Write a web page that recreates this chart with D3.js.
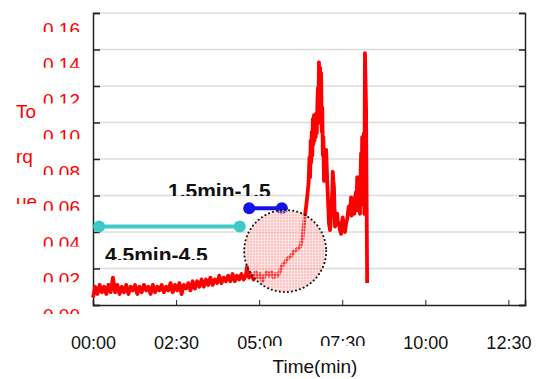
<!DOCTYPE html>
<html>
<head>
<meta charset="utf-8">
<script src="https://cdn.jsdelivr.net/npm/d3@7"></script>
<style>
  body { margin: 0; background: #fff; }
  svg text { font-family: Arial, "Liberation Sans", sans-serif; }
</style>
</head>
<body>
<div id="chart"></div>
<script>
// torque trace (time in seconds, torque value)
const timeSec = [
  0, 4, 8, 12, 16, 20, 24, 28, 32, 36, 40, 44, 48, 52, 56, 60, 64, 68, 72, 76,
  80, 84, 88, 92, 96, 100, 104, 108, 112, 116, 120, 124, 128, 132, 136, 140, 144, 148, 152, 156,
  160, 164, 168, 172, 176, 180, 184, 188, 192, 196, 200, 204, 208, 212, 216, 220, 224, 228, 232, 236,
  240, 244, 248, 252, 256, 260, 264, 268, 272, 276, 278, 282, 286, 290, 294, 298, 302, 306, 310, 314,
  318, 322, 326, 330, 334, 338, 342, 346, 350, 354, 358, 362, 366, 370, 374, 378, 382, 386,
  389, 391, 392, 393, 394, 395, 396, 397, 398, 399, 400, 401, 402, 403, 404, 405, 406, 407, 408, 409,
  410, 411, 412, 413, 414, 415, 416, 417, 418, 419, 421, 423, 424, 426, 428, 430, 432, 433, 434, 435,
  437, 439, 441, 442, 444, 446, 448, 450, 451, 453, 455, 457, 459, 461, 462, 464, 466, 467, 468, 469,
  471, 472, 473, 475, 476, 477, 478, 480, 482, 484, 485, 486, 487, 488, 489, 490, 491, 493, 495
];
const torque = [
  .004, .010, .006, .011, .007, .010, .006, .011, .007, .015, .007, .011, .006, .010, .007, .011, .006, .010, .008, .011,
  .006, .010, .007, .011, .008, .010, .006, .011, .007, .010, .008, .011, .007, .010, .008, .012, .007, .011, .008, .012,
  .006, .011, .009, .012, .008, .013, .009, .013, .010, .014, .010, .014, .011, .015, .011, .014, .012, .016, .012, .015,
  .013, .016, .013, .017, .013, .016, .014, .017, .014, .016, .021, .015, .017, .014, .018, .015, .017, .013, .016, .018,
  .016, .018, .015, .017, .016, .019, .022, .023, .025, .026, .027, .029, .030, .031, .032, .036, .047, .057,
  .066, .081, .070, .090, .078, .095, .082, .102, .088, .104, .090, .103, .092, .105, .094, .108, .119, .100, .133, .110,
  .130, .105, .127, .095, .108, .082, .092, .068, .078, .080, .085, .067, .060, .045, .041, .050, .062, .073, .068, .065,
  .043, .048, .050, .044, .045, .041, .039, .046, .048, .042, .040, .045, .047, .052, .054, .050, .059, .049, .055, .052,
  .058, .050, .059, .062, .054, .070, .052, .058, .050, .083, .060, .092, .080, .055, .094, .050, .138, .108, .012
];

// markers: two horizontal segments and the highlighted circle
const segCyan = [[11, .043], [265, .043]];
const segBlue = [[282, .053], [341, .053]];
const circleCenter = [347, .0296];

const xTicks = [0, 150, 300, 450, 600, 750];
const yTicks = [0, .02, .04, .06, .08, .10, .12, .14, .16];
const yTitleLines = ["To", "rq", "ue"];
const labelCyan = "4.5min-4.5";
const labelBlue = "1.5min-1.5";

const width = 541, height = 379;

const svg = d3.select("#chart").append("svg")
  .attr("width", width)
  .attr("height", height);

const x = d3.scaleLinear().domain([0, 780]).range([93, 525]);
const y = d3.scaleLinear().domain([0, 0.16]).range([305, 13]);
// the value labels sit on a slightly tighter spacing than the grid
const yLabel = d3.scaleLinear().domain([0, 0.16]).range([308, 22]);

const defs = svg.append("defs");
const pat = defs.append("pattern")
  .attr("id", "grid")
  .attr("patternUnits", "userSpaceOnUse")
  .attr("width", 3).attr("height", 3);
pat.append("rect").attr("width", 3).attr("height", 3).attr("fill", "rgba(255,120,120,0.42)");
pat.append("path").attr("d", "M0,0.5H3M0.5,0V3")
  .attr("stroke", "rgba(255,255,255,0.45)").attr("stroke-width", 1);

// gridlines
svg.append("g")
  .selectAll("line")
  .data(yTicks.slice(1))
  .join("line")
  .attr("x1", x(0)).attr("x2", x(780))
  .attr("y1", d => y(d)).attr("y2", d => y(d))
  .attr("stroke", "#dcdcdc")
  .attr("stroke-width", 1.5);

// axes
const xAxis = svg.append("g")
  .attr("transform", `translate(0,${y(0)})`)
  .call(d3.axisBottom(x).tickValues(xTicks).tickSize(-5).tickPadding(31)
    .tickFormat(d => d3.format("02")(Math.floor(d / 60)) + ":" + d3.format("02")(d % 60)));
xAxis.select(".domain").attr("stroke", "#222").attr("stroke-width", 1.5);
xAxis.selectAll(".tick line").attr("stroke", "#222");
xAxis.selectAll("text").attr("font-size", 18).attr("fill", "#111");

const yAxisL = svg.append("g")
  .attr("transform", `translate(${x(0)},0)`)
  .call(d3.axisLeft(y).tickValues(yTicks).tickSize(-7).tickFormat(""));
yAxisL.select(".domain").attr("stroke", "#222").attr("stroke-width", 1.5);
yAxisL.selectAll(".tick line").attr("stroke", "#222").attr("stroke-width", 1.5);

const yAxisR = svg.append("g")
  .attr("transform", `translate(${x(780)},0)`)
  .call(d3.axisRight(y).tickValues(yTicks).tickSize(-6).tickFormat(""));
yAxisR.select(".domain").attr("stroke", "#222").attr("stroke-width", 1.5);
yAxisR.selectAll(".tick line").attr("stroke", "#222").attr("stroke-width", 1.5);

// y value labels, cut off at the bottom as in the original
const capH = 13.6;
yTicks.forEach((v, i) => {
  const top = yLabel(v);
  defs.append("clipPath").attr("id", "yl" + i)
    .append("rect").attr("x", 0).attr("y", top - 3).attr("width", 90).attr("height", i === 0 ? 9 : 13);
  svg.append("text")
    .attr("clip-path", `url(#yl${i})`)
    .attr("x", 80).attr("y", top + capH)
    .attr("text-anchor", "end")
    .attr("font-size", 19)
    .attr("fill", "#ff0000")
    .text(d3.format(".2f")(v));
});

// y title, wrapped and clipped
defs.append("clipPath").attr("id", "ytitle")
  .append("rect").attr("x", 0).attr("y", 0).attr("width", 60).attr("height", 204);
svg.append("text")
  .attr("clip-path", "url(#ytitle)")
  .attr("font-size", 19)
  .attr("fill", "#ff0000")
  .selectAll("tspan")
  .data(yTitleLines)
  .join("tspan")
  .attr("x", 16)
  .attr("y", (d, i) => 118 + i * 45)
  .text(d => d);

// x title with its white box covering part of the tick labels
svg.append("rect")
  .attr("x", 266).attr("y", 346).attr("width", 100).attr("height", 33)
  .attr("fill", "#fff");
svg.append("text")
  .attr("x", 315).attr("y", 373)
  .attr("text-anchor", "middle")
  .attr("font-size", 19)
  .attr("fill", "#111")
  .text("Time(min)");

// segments with end dots
function segment(pts, color) {
  const g = svg.append("g");
  g.append("line")
    .attr("x1", x(pts[0][0])).attr("x2", x(pts[1][0]))
    .attr("y1", y(pts[0][1])).attr("y2", y(pts[1][1]))
    .attr("stroke", color).attr("stroke-width", 4);
  g.selectAll("circle")
    .data(pts)
    .join("circle")
    .attr("cx", d => x(d[0])).attr("cy", d => y(d[1]))
    .attr("r", 6)
    .attr("fill", color);
}
segment(segCyan, "#3ec9c6");
segment(segBlue, "#1414e6");

// torque line
const line = d3.line()
  .x((d, i) => x(timeSec[i]))
  .y(d => y(d));
svg.append("path")
  .datum(torque)
  .attr("d", line)
  .attr("fill", "none")
  .attr("stroke", "#ff0000")
  .attr("stroke-width", 3.8)
  .attr("stroke-linejoin", "round");

// highlight circle
svg.append("circle")
  .attr("cx", x(circleCenter[0]))
  .attr("cy", y(circleCenter[1]))
  .attr("r", 41)
  .attr("fill", "url(#grid)")
  .attr("stroke", "#111")
  .attr("stroke-width", 2)
  .attr("stroke-dasharray", "0.1,4")
  .attr("stroke-linecap", "round");

// segment labels, bottoms cut off
function clippedLabel(id, text, xPos, top, visible) {
  defs.append("clipPath").attr("id", id)
    .append("rect").attr("x", xPos - 5).attr("y", top - 3).attr("width", 130).attr("height", visible + 3);
  svg.append("text")
    .attr("clip-path", `url(#${id})`)
    .attr("x", xPos).attr("y", top + 15)
    .attr("font-size", 21)
    .attr("font-weight", "bold")
    .attr("fill", "#111")
    .text(text);
}
clippedLabel("lb", labelBlue, 168, 183, 13);
clippedLabel("lc", labelCyan, 105, 247, 13);
</script>
</body>
</html>
